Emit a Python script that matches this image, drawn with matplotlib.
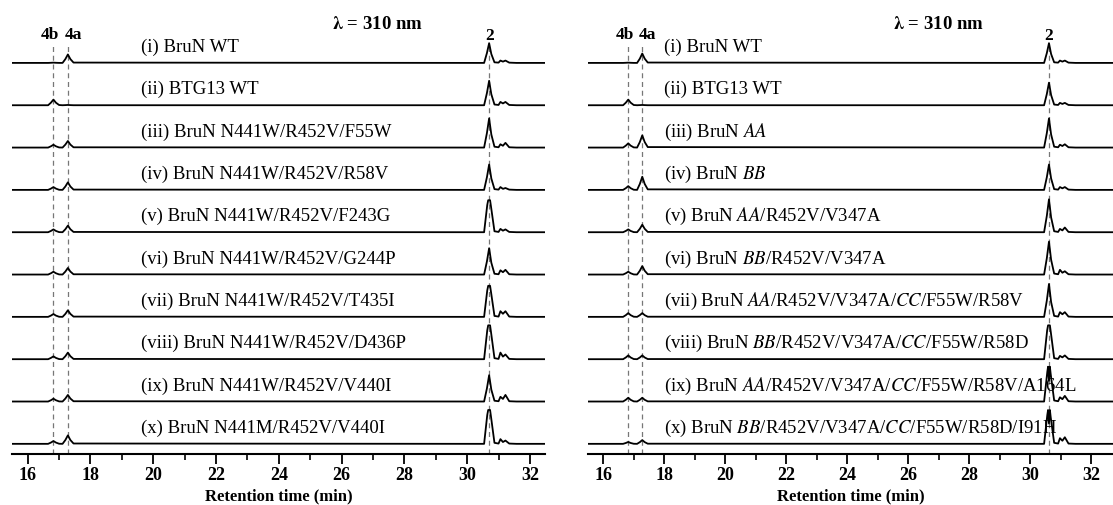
import matplotlib.pyplot as plt
import numpy as np
from matplotlib.ticker import MultipleLocator

plt.rcParams['font.family'] = ['Liberation Serif', 'DejaVu Serif']
plt.rcParams['mathtext.fontset'] = 'stix'

# retention times of the marked peaks (min)
t_4b, t_4a = 16.82, 17.28
t_2_left, t_2_right = 30.7, 30.62
t_s1, t_s2 = 0.36, 0.52   # minor peaks, offset from peak 2

# left panel (peak heights in 1/45 of the trace spacing)
labels_left = [
    '(i) BruN WT',
    '(ii) BTG13 WT',
    '(iii) BruN N441W/R452V/F55W',
    '(iv) BruN N441W/R452V/R58V',
    '(v) BruN N441W/R452V/F243G',
    '(vi) BruN N441W/R452V/G244P',
    '(vii) BruN N441W/R452V/T435I',
    '(viii) BruN N441W/R452V/D436P',
    '(ix) BruN N441W/R452V/V440I',
    '(x) BruN N441M/R452V/V440I',
]
h4b_left = [0.3, 6, 3, 3, 3, 3, 3, 3, 3, 3]
h4a_left = [9, 0.3, 7, 8, 7, 7, 7, 7, 7, 9]
h2_left = [21, 26, 31, 27, 34, 28, 33, 36, 28, 36]
hs1_left = [2.5, 3.5, 3.5, 3, 3.5, 4.5, 6, 7, 5, 5]
hs2_left = [2.5, 3.5, 5, 2, 3, 5, 6, 5, 7, 3.5]
shape_left = ['n', 'n', 'n', 'n', 'f', 'n', 'f', 'f', 'n', 'f']

# right panel
labels_right = [
    '(i) BruN WT',
    '(ii) BTG13 WT',
    '(iii) BruN $\\it{AA}$',
    '(iv) BruN $\\it{BB}$',
    '(v) BruN $\\it{AA}$/R452V/V347A',
    '(vi) BruN $\\it{BB}$/R452V/V347A',
    '(vii) BruN $\\it{AA}$/R452V/V347A/$\\it{CC}$/F55W/R58V',
    '(viii) BruN $\\it{BB}$/R452V/V347A/$\\it{CC}$/F55W/R58D',
    '(ix) BruN $\\it{AA}$/R452V/V347A/$\\it{CC}$/F55W/R58V/A164L',
    '(x) BruN $\\it{BB}$/R452V/V347A/$\\it{CC}$/F55W/R58D/I91H',
]
h4b_right = [0.3, 6, 4.5, 4, 3, 3, 4, 4, 4, 2]
h4a_right = [10, 0.3, 13, 14, 8, 9, 4, 4, 4, 4]
h2_right = [21, 24, 31, 27, 35, 35, 35, 36, 37, 36]
hs1_right = [2.5, 2.5, 3, 3, 3.5, 5, 5, 3.5, 4.5, 6]
hs2_right = [2.5, 2.5, 3.5, 3, 5, 3.5, 5, 4, 6, 7]
shape_right = ['n', 'n', 'n', 'n', 'n', 'n', 'n', 'f', 's', 's']

# peak outline templates (time offset, fraction of height)
small_peak = ([-0.17, -0.08, 0, 0.08, 0.18], [0, 0.45, 1, 0.45, 0.04])
main_peaks = {
    'n': ([-0.16, -0.07, 0, 0.07, 0.17], [0, 0.5, 1, 0.45, 0.03]),
    'f': ([-0.16, -0.06, -0.03, 0.03, 0.06, 0.17], [0, 0.85, 1, 1, 0.8, 0.03]),
    's': ([-0.16, -0.055, -0.03, 0, 0.03, 0.055, 0.17],
          [0, 0.85, 1, 0.6, 1, 0.8, 0.03]),
}

SCALE = 1 / 45.0   # height units -> trace spacing


def trace(t_2, h4b, h4a, h2, hs1, hs2, shape, xmax):
    xs, ys = [15.4], [0.0]
    for tc, h in ((t_4b, h4b), (t_4a, h4a)):
        xs += [tc + d for d in small_peak[0]]
        ys += [h * f for f in small_peak[1]]
    xs += [30.2]
    ys += [0.0]
    off, fr = main_peaks[shape]
    xs += [t_2 + d for d in off]
    ys += [h2 * f for f in fr]
    a, b = t_2 + t_s1, t_2 + t_s2
    xs += [a - 0.06, a, (a + b) / 2, b, b + 0.12, b + 0.35, xmax + 0.2]
    ys += [0.3, hs1, 0.55 * min(hs1, hs2), hs2, 0.3, 0.0, 0.0]
    return np.array(xs), np.array(ys) * SCALE


fig = plt.figure(figsize=(11.13, 5.06), dpi=100)
ax_l = fig.add_axes([12 / 1113, 51 / 506, 533 / 1113, 455 / 506])
ax_r = fig.add_axes([588 / 1113, 51 / 506, 525 / 1113, 455 / 506])

panels = [
    (ax_l, 32.48, t_2_left, 19.62, 28.6, labels_left, h4b_left, h4a_left,
     h2_left, hs1_left, hs2_left, shape_left),
    (ax_r, 32.72, t_2_right, 17.98, 28.5, labels_right, h4b_right, h4a_right,
     h2_right, hs1_right, hs2_right, shape_right),
]

for (ax, xmax, t_2, xlab, xlam, labels, h4b, h4a, h2, hs1, hs2,
     shape) in panels:
    n = len(labels)
    ymin, ymax = -0.24, n - 1 + 1.51
    for tc in (t_4b, t_4a, t_2):
        ax.plot([tc, tc], [ymin, n - 1 + 0.4], ls=(0, (4, 3)), lw=0.9,
                color='#777777', zorder=1)
    for i in range(n):
        base = n - 1 - i
        x, y = trace(t_2, h4b[i], h4a[i], h2[i], hs1[i], hs2[i], shape[i],
                     xmax)
        ax.plot(x, y + base, color='black', lw=1.3, zorder=2)
        ax.text(xlab, base + 0.39, labels[i], fontsize=13.5, va='center',
                ha='left')

    ax.text(16.72, n - 1 + 0.69, '4b', fontsize=12.5, fontweight='bold',
            ha='center', va='center')
    ax.text(17.45, n - 1 + 0.69, '4a', fontsize=12.5, fontweight='bold',
            ha='center', va='center')
    ax.text(t_2, n - 1 + 0.66, '2', fontsize=12.5, fontweight='bold',
            ha='center', va='center')
    ax.text(xlam, n - 1 + 0.94, r'$\mathbf{\lambda}$ = 310 nm', fontsize=13.5,
            fontweight='bold', ha='right', va='center')

    ax.set_xlim(15.5, xmax)
    ax.set_ylim(ymin, ymax)
    for s in ('top', 'left', 'right'):
        ax.spines[s].set_visible(False)
    ax.spines['bottom'].set_linewidth(1.5)
    ax.set_yticks([])
    ax.xaxis.set_major_locator(MultipleLocator(2))
    ax.xaxis.set_minor_locator(MultipleLocator(1))
    ax.tick_params(axis='x', which='major', length=7, width=1.3,
                   labelsize=13, pad=2)
    ax.tick_params(axis='x', which='minor', length=4, width=1.2)
    for lb in ax.get_xticklabels():
        lb.set_fontweight('bold')
    ax.set_xlabel('Retention time (min)', fontsize=12, fontweight='bold',
                  labelpad=3)
    ax.patch.set_alpha(0)

fig.savefig('out.png', dpi=100)
